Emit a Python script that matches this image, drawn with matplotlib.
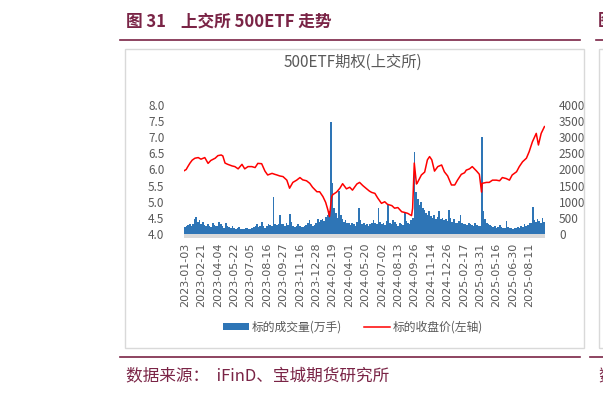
import numpy as np
import matplotlib.pyplot as plt
from matplotlib.patches import Rectangle
from matplotlib.lines import Line2D

plt.rcParams['font.family'] = ['Noto Sans CJK SC', 'DejaVu Sans']

# x axis labels, one every 30 trading days
tick_labels = ['2023-01-03', '2023-02-21', '2023-04-04', '2023-05-22', '2023-07-05',
               '2023-08-16', '2023-09-27', '2023-11-16', '2023-12-28', '2024-02-19',
               '2024-04-01', '2024-05-20', '2024-07-02', '2024-08-13', '2024-09-26',
               '2024-11-14', '2024-12-26', '2025-02-17', '2025-03-31', '2025-05-16',
               '2025-06-30', '2025-08-11']

# closing price (left axis), trading-day number and value
price_day = [0, 4, 7, 11, 15, 20, 26, 31, 38, 44, 49, 57, 62, 68, 71, 75, 80, 88, 93, 99,
             106, 111, 117, 124, 130, 135, 142, 148, 153, 161, 166, 170, 175, 181, 188, 193, 199, 206, 212, 217,
             224, 230, 235, 243, 248, 254, 259, 263, 266, 270, 272, 279, 285, 290, 297, 303, 308, 316, 321, 327,
             334, 339, 343, 349, 354, 361, 367, 372, 380, 385, 391, 398, 403, 409, 416, 418, 421, 425, 427, 434,
             440, 445, 449, 453, 458, 464, 471, 476, 482, 489, 495, 500, 507, 513, 516, 522, 527, 535, 540, 544,
             545, 553, 558, 564, 571, 577, 582, 589, 595, 600, 608, 613, 619, 626, 631, 637, 644, 648, 653, 659]
price = [5.96, 6.0, 6.09, 6.2, 6.29, 6.35, 6.37, 6.32, 6.37, 6.19, 6.28, 6.35, 6.43, 6.45, 6.42, 6.2, 6.16, 6.11, 6.09, 6.02,
         6.16, 6.02, 6.09, 6.09, 6.06, 6.19, 6.18, 5.95, 5.83, 5.88, 5.85, 5.83, 5.8, 5.78, 5.67, 5.42, 5.6, 5.67, 5.75, 5.68,
         5.65, 5.57, 5.45, 5.31, 5.31, 5.16, 4.98, 4.75, 4.54, 5.16, 5.22, 5.3, 5.42, 5.56, 5.4, 5.45, 5.36, 5.55, 5.6, 5.5,
         5.4, 5.33, 5.29, 5.26, 5.12, 4.95, 5.0, 4.92, 4.88, 4.8, 4.82, 4.69, 4.67, 4.64, 4.57, 4.8, 6.2, 5.55, 5.6, 5.83,
         5.92, 6.3, 6.4, 6.3, 5.95, 6.09, 6.14, 5.93, 5.8, 5.52, 5.52, 5.67, 5.85, 5.9, 5.98, 6.02, 6.09, 5.95, 5.85, 5.3,
         5.57, 5.6, 5.6, 5.67, 5.67, 5.65, 5.75, 5.72, 5.67, 5.83, 5.93, 6.09, 6.24, 6.35, 6.55, 6.86, 7.12, 6.76, 7.12, 7.33]

# volume (万手, right axis), one value per 3 trading days
vol_step = 3
volume = [230, 250, 280, 300, 260, 320, 450, 540, 380, 420, 300, 360, 280, 250, 310, 260, 230, 350, 280, 240,
          260, 380, 300, 240, 200, 330, 260, 210, 180, 250, 200, 170, 190, 230, 170, 150, 160, 200, 180, 160,
          170, 190, 210, 260, 300, 220, 250, 380, 240, 200, 260, 300, 280, 260, 1160, 320, 280, 300, 590, 310,
          300, 260, 350, 280, 620, 380, 260, 220, 250, 300, 240, 210, 230, 260, 280, 350, 420, 300, 260, 280,
          330, 450, 380, 420, 480, 400, 520, 600, 700, 3480, 1590, 800, 650, 500, 1330, 600, 450, 380, 420, 350,
          330, 280, 350, 300, 260, 380, 800, 420, 300, 350, 280, 320, 260, 300, 350, 420, 330, 300, 800, 380,
          300, 350, 280, 400, 900, 350, 300, 420, 380, 300, 260, 350, 300, 280, 690, 400, 350, 300, 420, 500,
          2550, 1300, 1100, 900, 1000, 800, 750, 650, 600, 700, 550, 500, 600, 480, 520, 700, 450, 500, 420, 450,
          400, 740, 500, 380, 450, 350, 330, 400, 600, 350, 300, 320, 280, 350, 300, 280, 250, 330, 270, 250,
          260, 3000, 700, 450, 350, 300, 280, 260, 220, 250, 200, 230, 280, 210, 180, 200, 400, 220, 190, 180,
          170, 200, 180, 220, 190, 250, 210, 300, 260, 280, 350, 330, 850, 420, 380, 450, 400, 350, 500, 380]

maroon = '#7a2446'
grey = '#595959'

fig = plt.figure(figsize=(6.03, 3.94), dpi=100)
W, H = 603, 394

# header and footer
fig.text(126 / W, 1 - 21 / H, '图 31    上交所 500ETF 走势', color=maroon, fontsize=12,
         fontweight='bold', ha='left', va='center')
fig.text(598 / W, 1 - 21 / H, '图', color=maroon, fontsize=12, fontweight='bold', ha='left', va='center')
fig.add_artist(Line2D([120 / W, 580 / W], [1 - 40 / H, 1 - 40 / H], color=maroon, lw=1.2))
fig.add_artist(Line2D([596 / W, 1], [1 - 40 / H, 1 - 40 / H], color=maroon, lw=1.2))
fig.add_artist(Line2D([120 / W, 580 / W], [1 - 357 / H, 1 - 357 / H], color=maroon, lw=1.2))
fig.add_artist(Line2D([590 / W, 1], [1 - 357 / H, 1 - 357 / H], color=maroon, lw=1.2))
fig.text(126 / W, 1 - 376 / H, '数据来源：  iFinD、宝城期货研究所', color=maroon, fontsize=12,
         ha='left', va='center')
fig.text(598 / W, 1 - 376 / H, '数', color=maroon, fontsize=12, ha='left', va='center')

# chart frame
fig.add_artist(Rectangle((125 / W, 1 - 348 / H), 459 / W, 299 / H, transform=fig.transFigure,
                         fill=False, edgecolor='#d9d9d9', lw=1.0))
fig.add_artist(Rectangle((599 / W, 1 - 348 / H), 10 / W, 299 / H, transform=fig.transFigure,
                         fill=False, edgecolor='#d9d9d9', lw=1.0))
fig.text(353 / W, 1 - 62 / H, '500ETF期权(上交所)', color=grey, fontsize=11, ha='center', va='center')

# bars on the primary axes (right ticks), price on the twin (left ticks) so the line sits on top
ax = fig.add_axes([184 / W, 1 - 234 / H, 361 / W, 129 / H])
vol_day = np.arange(len(volume)) * vol_step
bars = ax.bar(vol_day, volume, width=vol_step, align='edge', color='#2e75b6', linewidth=0)
ax.set_ylim(0, 4000)
ax.set_yticks(np.arange(0, 4001, 500))
ax.set_xlim(0, 660)
ax.set_xticks(np.arange(len(tick_labels)) * 30 + 1.5)
ax.set_xticklabels(tick_labels, rotation=90, fontsize=8, color=grey, family='DejaVu Sans')
ax.tick_params(axis='x', length=0, pad=6)
for s in ax.spines.values():
    s.set_visible(False)
ax.add_patch(Rectangle((0, -0.03), 1, 0.03, transform=ax.transAxes, color='#d9d9d9',
                       clip_on=False, lw=0))

ax2 = ax.twinx()
line, = ax2.plot(price_day, price, color='#ff0000', lw=1.1)
ax2.set_ylim(4.0, 8.0)
ax2.set_yticks(np.arange(4.0, 8.01, 0.5))
ax2.set_yticklabels([f'{v:.1f}' for v in np.arange(4.0, 8.01, 0.5)])
for s in ax2.spines.values():
    s.set_visible(False)

# swap sides after twinx, which resets them
ax.yaxis.tick_right()
ax2.yaxis.tick_left()
ax.tick_params(axis='y', length=0, pad=10, labelsize=8.5, labelcolor=grey)
ax2.tick_params(axis='y', length=0, pad=14, labelsize=8.5, labelcolor=grey)

fig.legend([bars, line], ['标的成交量(万手)', '标的收盘价(左轴)'], ncol=2, frameon=False,
           loc='center', bbox_to_anchor=(353 / W, 1 - 327 / H), fontsize=8.5,
           handlelength=2.2, handleheight=0.5, columnspacing=1.8, handletextpad=0.3,
           labelcolor=grey)

fig.savefig('out.png', dpi=100)
